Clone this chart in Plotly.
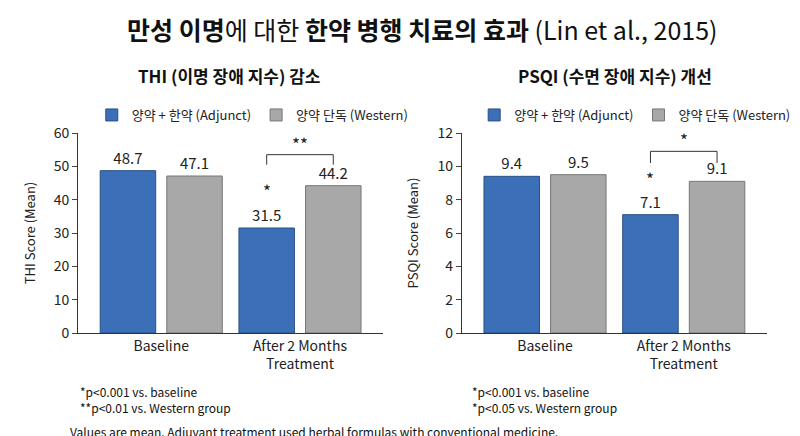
import plotly.graph_objects as go
from plotly.subplots import make_subplots

groups = ["Baseline", "After 2 Months<br>Treatment"]
thi_adjunct = [48.7, 31.5]
thi_western = [47.1, 44.2]
psqi_adjunct = [9.4, 7.1]
psqi_western = [9.5, 9.1]
name_adj = "양약 + 한약 (Adjunct)"
name_wes = "양약 단독 (Western)"

blue = "#3b70b8"
grey = "#a8a8a8"
font = "Noto Sans CJK KR"

fig = make_subplots(rows=1, cols=2, horizontal_spacing=0.114)
xs = [0, 1]

for col, adj, wes, leg in [(1, thi_adjunct, thi_western, "legend"),
                           (2, psqi_adjunct, psqi_western, "legend2")]:
    fig.add_trace(go.Bar(x=xs, y=adj, name=name_adj, width=0.4, offset=-0.44,
                         marker=dict(color=blue, line=dict(color="#2a4f85", width=1)),
                         text=[f"{v:.1f}" for v in adj], textposition="outside",
                         textfont=dict(size=15, color="#222"), cliponaxis=False,
                         legend=leg), row=1, col=col)
    fig.add_trace(go.Bar(x=xs, y=wes, name=name_wes, width=0.4, offset=0.04,
                         marker=dict(color=grey, line=dict(color="#777", width=1)),
                         text=[f"{v:.1f}" for v in wes], textposition="outside",
                         textfont=dict(size=15, color="#222"), cliponaxis=False,
                         legend=leg), row=1, col=col)

for col in [1, 2]:
    fig.update_xaxes(range=[-0.6, 1.6], tickvals=xs, ticktext=groups, showline=True,
                     linecolor="#333", ticks="", tickfont=dict(size=14, color="#222"),
                     row=1, col=col)
fig.update_yaxes(range=[0, 60], dtick=10, showline=True, linecolor="#333", ticks="outside",
                 showgrid=False, title=dict(text="THI Score (Mean)", font=dict(size=13)),
                 tickfont=dict(size=14), row=1, col=1)
fig.update_yaxes(range=[0, 12], dtick=2, showline=True, linecolor="#333", ticks="outside",
                 showgrid=False, title=dict(text="PSQI Score (Mean)", font=dict(size=13)),
                 tickfont=dict(size=14), row=1, col=2)

# significance brackets
for xr, yr, top, leg, star2, star1, s1y in [("x", "y", 53.5, 50.5, "**", "*", 38.5),
                                            ("x2", "y2", 10.9, 10.2, "*", "*", 8.4)]:
    fig.add_shape(type="path", xref=xr, yref=yr,
                  path=f"M 0.76 {leg} L 0.76 {top} L 1.24 {top} L 1.24 {leg}",
                  line=dict(color="#333", width=1))
    fig.add_annotation(xref=xr, yref=yr, x=1.0, y=top, text=star2, showarrow=False,
                       yanchor="bottom", yshift=-3, font=dict(size=17, color="#222"))
    fig.add_annotation(xref=xr, yref=yr, x=0.76, y=s1y, text=star1, showarrow=False,
                       yanchor="bottom", font=dict(size=17, color="#222"))

anns = [
    (0.5, 1.52, "<b>만성 이명</b>에 대한 <b>한약 병행 치료의 효과</b> (Lin et al., 2015)", 25, "center"),
    (0.22, 1.29, "<b>THI (이명 장애 지수) 감소</b>", 17, "center"),
    (0.78, 1.29, "<b>PSQI (수면 장애 지수) 개선</b>", 17, "center"),
    (0.0, -0.29, "*p&lt;0.001 vs. baseline", 12, "left"),
    (0.0, -0.37, "**p&lt;0.01 vs. Western group", 12, "left"),
    (0.569, -0.29, "*p&lt;0.001 vs. baseline", 12, "left"),
    (0.569, -0.37, "*p&lt;0.05 vs. Western group", 12, "left"),
    (-0.014, -0.49, "Values are mean. Adjuvant treatment used herbal formulas with conventional medicine.", 12, "left"),
]
for x, y, t, s, a in anns:
    fig.add_annotation(xref="paper", yref="paper", x=x, y=y, text=t, showarrow=False,
                       xanchor=a, yanchor="middle", font=dict(size=s, color="#111"))

leg_style = dict(orientation="h", yanchor="middle", y=1.09, xanchor="left",
                 font=dict(size=13), bgcolor="rgba(0,0,0,0)")
fig.update_layout(
    width=800, height=436, margin=dict(l=70, r=30, t=125, b=111),
    plot_bgcolor="white", paper_bgcolor="white",
    font=dict(family=font, color="#222"),
    legend=dict(x=0.02, **leg_style), legend2=dict(x=0.575, **leg_style),
)
fig.write_html("out.html")
